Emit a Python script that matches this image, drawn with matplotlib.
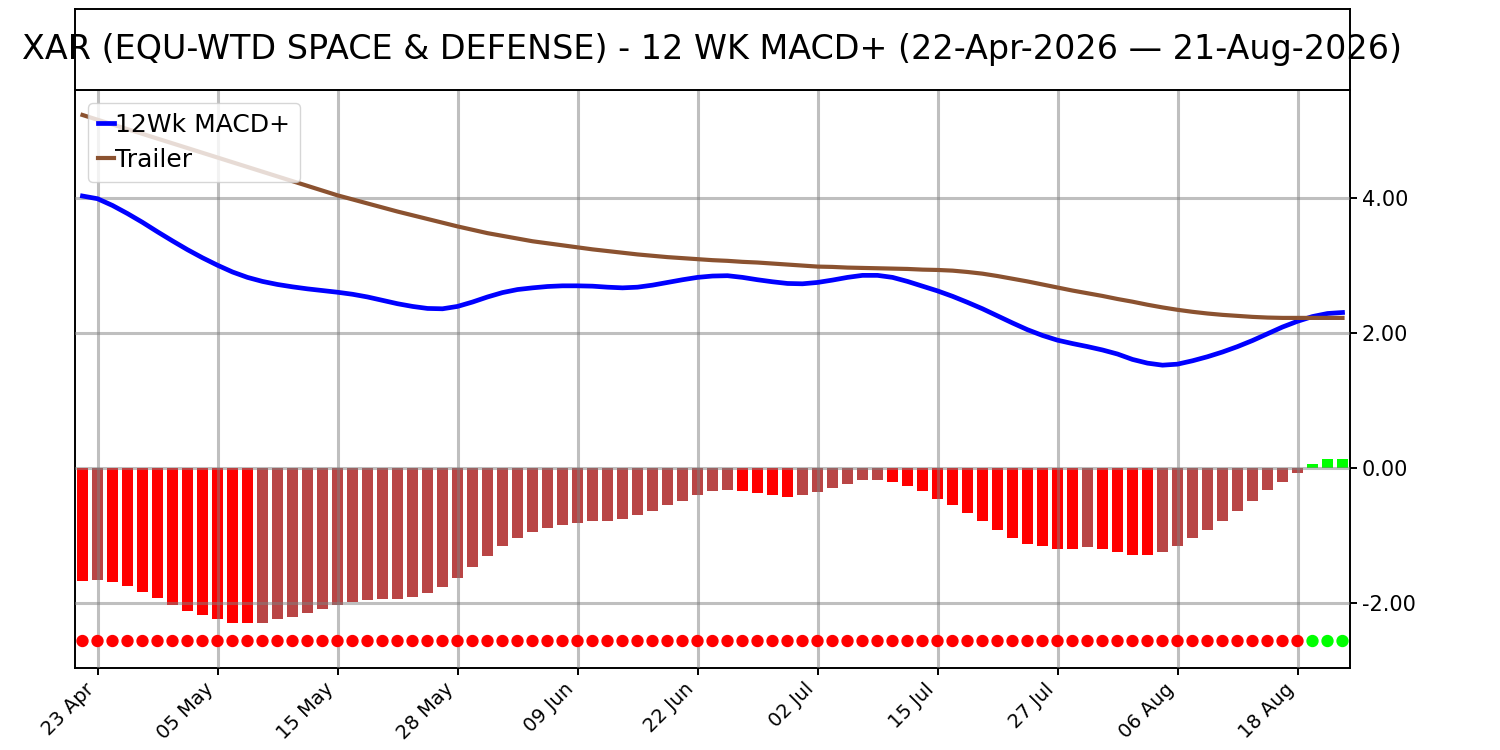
import numpy as np
import pandas as pd
from matplotlib import pyplot as plt

# trading days 22-Apr-2026 .. 21-Aug-2026 (US market holidays skipped)
holidays = ["2026-05-25", "2026-06-19", "2026-07-03"]
dates = pd.bdate_range("2026-04-22", "2026-08-21", freq="C", holidays=holidays)

macd = [4.03, 3.99, 3.89, 3.77, 3.64, 3.50, 3.365, 3.235, 3.115, 3.005,
        2.905, 2.825, 2.765, 2.72, 2.685, 2.655, 2.63, 2.605, 2.575, 2.535,
        2.485, 2.435, 2.395, 2.365, 2.36, 2.395, 2.46, 2.535, 2.60, 2.645,
        2.67, 2.69, 2.70, 2.70, 2.695, 2.68, 2.67, 2.68, 2.71, 2.75,
        2.79, 2.825, 2.845, 2.85, 2.825, 2.79, 2.76, 2.735, 2.73, 2.75,
        2.785, 2.825, 2.855, 2.855, 2.825, 2.765, 2.695, 2.625, 2.545, 2.455,
        2.36, 2.255, 2.15, 2.05, 1.965, 1.895, 1.845, 1.80, 1.75, 1.69,
        1.61, 1.555, 1.525, 1.54, 1.59, 1.65, 1.72, 1.80, 1.89, 1.99,
        2.09, 2.175, 2.245, 2.29, 2.305]

trailer = [5.23, 5.16, 5.09, 5.02, 4.95, 4.88, 4.81, 4.74, 4.67, 4.60,
           4.53, 4.46, 4.39, 4.32, 4.25, 4.18, 4.11, 4.04, 3.98, 3.92,
           3.86, 3.80, 3.745, 3.69, 3.635, 3.58, 3.53, 3.48, 3.44, 3.40,
           3.36, 3.33, 3.30, 3.27, 3.24, 3.215, 3.19, 3.165, 3.145, 3.125,
           3.11, 3.095, 3.08, 3.07, 3.055, 3.045, 3.03, 3.015, 3.00, 2.985,
           2.98, 2.97, 2.965, 2.96, 2.955, 2.95, 2.94, 2.935, 2.925, 2.905,
           2.88, 2.845, 2.805, 2.765, 2.72, 2.675, 2.63, 2.59, 2.55, 2.505,
           2.465, 2.42, 2.38, 2.345, 2.315, 2.29, 2.27, 2.255, 2.24, 2.23,
           2.225, 2.225, 2.225, 2.225, 2.225]

hist = [-1.665, -1.65, -1.68, -1.74, -1.83, -1.92, -2.02, -2.11, -2.18, -2.24,
        -2.29, -2.30, -2.29, -2.24, -2.20, -2.14, -2.08, -2.02, -1.98, -1.95,
        -1.94, -1.935, -1.91, -1.85, -1.76, -1.625, -1.46, -1.30, -1.15, -1.03,
        -0.94, -0.88, -0.835, -0.805, -0.79, -0.78, -0.76, -0.70, -0.63, -0.55,
        -0.48, -0.40, -0.345, -0.33, -0.345, -0.375, -0.405, -0.42, -0.405, -0.36,
        -0.30, -0.23, -0.18, -0.17, -0.21, -0.27, -0.345, -0.45, -0.55, -0.66,
        -0.79, -0.92, -1.03, -1.12, -1.16, -1.19, -1.195, -1.175, -1.19, -1.235,
        -1.28, -1.285, -1.235, -1.15, -1.03, -0.91, -0.78, -0.63, -0.48, -0.33,
        -0.20, -0.065, 0.064, 0.14, 0.14]

DOT_LEVEL = -2.56
TITLE = "XAR (EQU-WTD SPACE & DEFENSE) - 12 WK MACD+ (22-Apr-2026 \u2014 21-Aug-2026)"

x = np.arange(len(dates))
h = np.array(hist)

# bar colours: green above zero, bright red when falling, dull red when rising
bar_colors = []
for i, v in enumerate(h):
    if v > 0:
        bar_colors.append("#00ff00")
    elif i == 0 or v < h[i - 1]:
        bar_colors.append("#ff0000")
    else:
        bar_colors.append("#b94545")
dot_colors = ["#00ff00" if v > 0 else "#ff0000" for v in h]

fig = plt.figure(figsize=(15, 7.5), dpi=100)
ax = fig.add_axes([0.05, 0.1093, 0.85, 0.7707])
tax = fig.add_axes([0.05, 0.88, 0.85, 0.108])
tax.set_xticks([])
tax.set_yticks([])
for sp in tax.spines.values():
    sp.set_linewidth(1.4)
tax.text(0.5, 0.5, TITLE, ha="center", va="center", fontsize=24,
         transform=tax.transAxes, clip_on=False)

ax.bar(x, h, width=0.7, color=bar_colors, zorder=1)
ax.plot(x, macd, color="#0000ff", lw=3.4, label="12Wk MACD+", zorder=3)
ax.plot(x, trailer, color="#8b5230", lw=3, label="Trailer", zorder=3)
ax.scatter(x, np.full(len(x), DOT_LEVEL), s=62, c=dot_colors, zorder=3)

ax.set_xlim(-0.5, len(x) - 0.5)
ax.set_ylim(-2.96, 5.6)
ax.set_yticks([-2, 0, 2, 4])
ax.yaxis.tick_right()
ax.yaxis.set_major_formatter(plt.FormatStrFormatter("%.2f"))
tick_pos = x[1::8]
ax.set_xticks(tick_pos)
ax.set_xticklabels([dates[i].strftime("%d %b") for i in tick_pos],
                   rotation=45, ha="right")
ax.tick_params(width=1.4, length=4.8)
ax.tick_params(axis="x", labelsize=14)
ax.tick_params(axis="y", labelsize=15)
ax.grid(True, color="gray", alpha=0.5, lw=2.2, zorder=2)
ax.set_axisbelow(False)
for sp in ax.spines.values():
    sp.set_linewidth(1.4)

ax.legend(loc="upper left", fontsize=18, handlelength=0.64, handletextpad=0.05,
          borderaxespad=0.5, labelspacing=0.45)

fig.savefig("out.png")
